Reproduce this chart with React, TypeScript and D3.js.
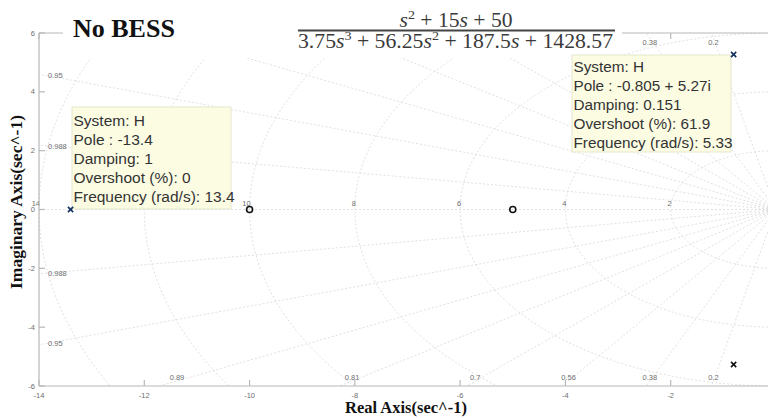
import React from "react";
import * as d3 from "d3";

const xTicks = [-14, -12, -10, -8, -6, -4, -2, 0];
const yTicks = [-6, -4, -2, 0, 2, 4, 6];
const dampingValues = [0.2, 0.38, 0.56, 0.7, 0.81, 0.89, 0.95, 0.988];
const freqValues = [2, 4, 6, 8, 10, 12, 14];
const polesRe = [-13.4, -0.805, -0.805];
const polesIm = [0, 5.27, -5.27];
const zerosRe = [-10, -5];
const zerosIm = [0, 0];
const tip1Lines = ["System: H", "Pole : -13.4", "Damping: 1", "Overshoot (%): 0", "Frequency (rad/s): 13.4"];
const tip2Lines = ["System: H", "Pole : -0.805 + 5.27i", "Damping: 0.151", "Overshoot (%): 61.9", "Frequency (rad/s): 5.33"];

const W = 768, H = 418;
const L = 39, R = 776, T = 33, B = 386;
const COVER = { x: 63, y: 0, w: 559, h: 58 };
const TIP1 = { x: 72, y: 107, w: 159, h: 102 };
const TIP2 = { x: 572, y: 55, w: 159, h: 97 };

const inside = (px: number, py: number, r: { x: number; y: number; w: number; h: number }) =>
  px > r.x - 4 && px < r.x + r.w + 4 && py > r.y - 4 && py < r.y + r.h + 4;

export default function App() {
  const x = d3.scaleLinear().domain([-14, 0]).range([L, R]);
  const y = d3.scaleLinear().domain([-6, 6]).range([B, T]);
  const gridColor = "#d2d2d2";
  const labelColor = "#6e6e6e";
  const axisColor = "#b8b8b8";
  const serif = "'Liberation Serif', 'Times New Roman', serif";
  const sans = "'Liberation Sans', Arial, Helvetica, sans-serif";

  const circlePath = (wn: number) => {
    const angles = d3.range(0, 181).map(i => Math.PI / 2 + (i * Math.PI) / 180);
    return d3.line<number>()
      .x(a => x(wn * Math.cos(a)))
      .y(a => y(wn * Math.sin(a)))(angles) as string;
  };

  const visible = (px: number, py: number) =>
    px < W - 4 && !inside(px, py, COVER) && !inside(px, py, TIP1) && !inside(px, py, TIP2);

  const dampLines: React.ReactNode[] = [];
  const dampLabels: React.ReactNode[] = [];
  dampingValues.forEach((z, i) => {
    const s = Math.sqrt(1 - z * z);
    [1, -1].forEach(sign => {
      const Rr = 40;
      dampLines.push(
        <line key={`dl${i}${sign}`} x1={x(0)} y1={y(0)} x2={x(-Rr * z)} y2={y(sign * Rr * s)}
          stroke={gridColor} strokeWidth={0.7} strokeDasharray="2,2" />
      );
      const tLeft = 14 / z;
      const tTop = 6 / s;
      if (tLeft < tTop) {
        const px = L + 9;
        const dx = x.invert(px);
        const dy = (-dx / z) * s * sign;
        if (visible(px + 8, y(dy)))
          dampLabels.push(
            <text key={`dt${i}${sign}`} x={px} y={y(dy)} dy="0.35em" fontSize={7.5} fill={labelColor} fontFamily={sans}>{String(z)}</text>
          );
      } else {
        const py = sign > 0 ? T + 5 : B - 5;
        const dyv = y.invert(py);
        const dxv = -Math.abs(dyv) * z / s;
        const ty = sign > 0 ? T + 12 : B - 6;
        if (visible(x(dxv), ty - 3))
          dampLabels.push(
            <text key={`dt${i}${sign}`} x={x(dxv)} y={ty} textAnchor="middle" fontSize={7.5} fill={labelColor} fontFamily={sans}>{String(z)}</text>
          );
      }
    });
  });

  const tip = (lines: string[], r: { x: number; y: number; w: number; h: number }, ty: number, fs: number) => (
    <g>
      <rect x={r.x} y={r.y} width={r.w} height={r.h} fill="#fcfce3" stroke="#e6e6cf" strokeWidth={1} />
      {lines.map((t, i) => (
        <text key={i} x={r.x + 1.5} y={ty + i * 19} fontSize={fs} fill="#333" fontFamily={sans}>{t}</text>
      ))}
    </g>
  );

  return (
    <svg width={W} height={H} style={{ position: "absolute", left: 0, top: 0, background: "#fff" }}>
      <defs>
        <clipPath id="plotClip">
          <rect x={L} y={T} width={R - L} height={B - T} />
        </clipPath>
      </defs>
      <rect x={0} y={0} width={W} height={H} fill="#fff" />
      <g clipPath="url(#plotClip)">
        {freqValues.map(wn => (
          <path key={`c${wn}`} d={circlePath(wn)} fill="none" stroke={gridColor} strokeWidth={0.7} strokeDasharray="2,2" />
        ))}
        {dampLines}
        <line x1={L} x2={R} y1={y(0)} y2={y(0)} stroke={gridColor} strokeWidth={0.7} strokeDasharray="2,2" />
      </g>
      {dampLabels}
      {freqValues.filter(wn => visible(x(-wn) - 4, y(0) - 7)).map(wn => (
        <text key={`fl${wn}`} x={x(-wn) + 1} y={y(0) - 4} textAnchor="end" fontSize={7.5} fill={labelColor} fontFamily={sans}>{wn}</text>
      ))}
      {/* axes */}
      <line x1={L} x2={L} y1={T} y2={B} stroke={axisColor} strokeWidth={1.2} />
      <line x1={L} x2={R} y1={B} y2={B} stroke={axisColor} strokeWidth={1.2} />
      <line x1={L} x2={R} y1={T} y2={T} stroke={axisColor} strokeWidth={1.2} />
      {xTicks.filter(t => x(t) < W).map(t => (
        <g key={`xt${t}`}>
          <line x1={x(t)} x2={x(t)} y1={B} y2={B - 6} stroke={axisColor} strokeWidth={1.2} />
          <line x1={x(t)} x2={x(t)} y1={T} y2={T + 6} stroke={axisColor} strokeWidth={1.2} />
          <text x={x(t)} y={B + 12} textAnchor="middle" fontSize={7.5} fill={labelColor} fontFamily={sans}>{t}</text>
        </g>
      ))}
      {yTicks.map(t => (
        <g key={`yt${t}`}>
          <line x1={L} x2={L + 6} y1={y(t)} y2={y(t)} stroke={axisColor} strokeWidth={1.2} />
          <text x={L - 4} y={y(t)} dy="0.35em" textAnchor="end" fontSize={7.5} fill={labelColor} fontFamily={sans}>{t}</text>
        </g>
      ))}
      {/* white cover behind title and formula */}
      <rect x={COVER.x} y={COVER.y} width={COVER.w} height={COVER.h} fill="#fff" />
      <text x={73} y={37} fontSize={26} fontWeight="bold" fill="#111" fontFamily={serif}>No BESS</text>
      <text x={456} y={27} textAnchor="middle" fontSize={20} fill="#3a3a3a" fontFamily={serif} textLength={113} lengthAdjust="spacingAndGlyphs">
        <tspan fontStyle="italic">s</tspan><tspan fontSize={13} dy={-8}>2</tspan><tspan dy={8}> + 15</tspan><tspan fontStyle="italic">s</tspan><tspan> + 50</tspan>
      </text>
      <line x1={298} x2={615} y1={30.5} y2={30.5} stroke="#444" strokeWidth={1.8} />
      <text x={298} y={48} fontSize={20} fill="#3a3a3a" fontFamily={serif} textLength={315} lengthAdjust="spacingAndGlyphs">
        <tspan>3.75</tspan><tspan fontStyle="italic">s</tspan><tspan fontSize={13} dy={-8}>3</tspan><tspan dy={8}> + 56.25</tspan><tspan fontStyle="italic">s</tspan><tspan fontSize={13} dy={-8}>2</tspan><tspan dy={8}> + 187.5</tspan><tspan fontStyle="italic">s</tspan><tspan> + 1428.57</tspan>
      </text>
      {/* datatips */}
      {tip(tip1Lines, TIP1, 126, 15.5)}
      {tip(tip2Lines, TIP2, 72, 15.3)}
      {/* zeros */}
      {zerosRe.map((r, i) => (
        <circle key={`z${i}`} cx={x(r)} cy={y(zerosIm[i])} r={3} fill="none" stroke="#111" strokeWidth={1.6} />
      ))}
      {/* poles */}
      {polesRe.map((r, i) => {
        const cx = x(r), cy = y(polesIm[i]);
        const d = 2.6;
        return (
          <g key={`p${i}`} stroke={i === 2 ? "#111" : "#10305e"} strokeWidth={1.6}>
            <line x1={cx - d} y1={cy - d} x2={cx + d} y2={cy + d} />
            <line x1={cx - d} y1={cy + d} x2={cx + d} y2={cy - d} />
          </g>
        );
      })}
      {/* axis labels */}
      <text x={406} y={413} textAnchor="middle" fontSize={16.5} fontWeight="bold" fill="#111" fontFamily={serif}>Real Axis(sec^-1)</text>
      <text transform={`translate(22,202) rotate(-90)`} textAnchor="middle" fontSize={17.5} fontWeight="bold" fill="#111" fontFamily={serif}>Imaginary Axis(sec^-1)</text>
    </svg>
  );
}
